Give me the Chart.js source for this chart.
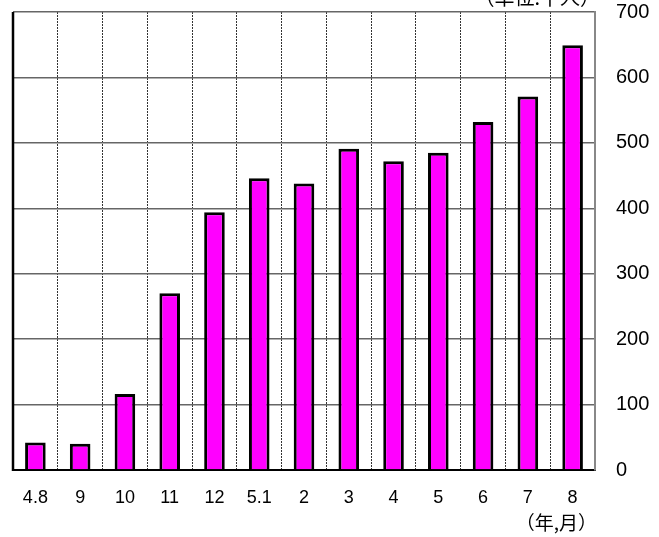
<!DOCTYPE html>
<html>
<head>
<meta charset="utf-8">
<script src="https://cdn.jsdelivr.net/npm/chart.js@4/dist/chart.umd.min.js"></script>
<style>
  html, body { margin: 0; padding: 0; background: #fff; }
  #wrap { width: 659px; height: 537px; }
</style>
</head>
<body>
<div id="wrap"><canvas id="c"></canvas></div>
<script>
// data
const months = ['4.8', '9', '10', '11', '12', '5.1', '2', '3', '4', '5', '6', '7', '8'];
const counts = [42, 40, 116, 270, 394, 446, 438, 491, 472, 485, 532, 571, 649];
const yTicks = [0, 100, 200, 300, 400, 500, 600, 700];
const unitLabel = '（単位:千人）';
const axisLabel = '（年,月）';

// frame + the two caption texts
const extras = {
    id: 'extras',
    afterDatasetsDraw(chart) {
        const { ctx, chartArea } = chart;
        ctx.save();
        ctx.strokeStyle = '#000';
        ctx.lineWidth = 2.5;
        ctx.beginPath();
        ctx.moveTo(chartArea.left, chartArea.top);
        ctx.lineTo(chartArea.left, chartArea.bottom + 1);
        ctx.stroke();

        ctx.fillStyle = '#000';
        ctx.font = '20px "Noto Sans CJK JP"';
        ctx.textAlign = 'right';
        ctx.textBaseline = 'middle';
        ctx.fillText(unitLabel, 600, -3);
        ctx.font = '19px "Noto Sans CJK JP"';
        ctx.fillText(axisLabel, 597, 523);
        ctx.restore();
    }
};

new Chart(document.getElementById('c'), {
    type: 'bar',
    data: {
        labels: months,
        datasets: [{
            data: counts,
            backgroundColor: '#ff00ff',
            borderColor: '#000',
            borderWidth: 3,
            borderSkipped: 'bottom',
            barPercentage: 0.46,
            categoryPercentage: 1
        }]
    },
    options: {
        responsive: true,
        maintainAspectRatio: false,
        animation: false,
        layout: { padding: { top: 12, left: 13, right: 0, bottom: 0 } },
        plugins: { legend: { display: false }, tooltip: { enabled: false } },
        scales: {
            x: {
                offset: true,
                grid: {
                    offset: true,
                    drawTicks: false,
                    color: (c) => c.index === 0 ? 'rgba(0,0,0,0)' : '#333',
                    lineWidth: 1
                },
                border: { display: true, color: '#000', width: 2, dash: [2, 1] },
                ticks: {
                    color: '#000',
                    padding: 17,
                    font: { family: 'Liberation Sans', size: 18 },
                    maxRotation: 0,
                    autoSkip: false
                },
                afterFit: (s) => { s.height = 67; }
            },
            y: {
                position: 'right',
                min: 0,
                max: 700,
                afterBuildTicks: (s) => { s.ticks = yTicks.map(v => ({ value: v })); },
                grid: { color: '#666', lineWidth: 1.5, drawTicks: false },
                border: { display: true, color: '#888', width: 2 },
                ticks: {
                    color: '#000',
                    padding: 21,
                    font: { family: 'Liberation Sans', size: 20 }
                },
                afterFit: (s) => { s.width = 64; s.paddingTop = 0; s.paddingBottom = 0; }
            }
        }
    },
    plugins: [extras]
});
</script>
</body>
</html>
